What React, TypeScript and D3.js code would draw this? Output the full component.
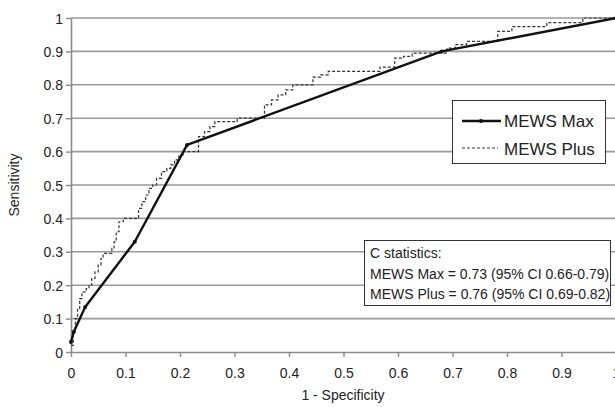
import { useEffect, useRef } from "react";
import * as d3 from "d3";

// tick values shared by both axes
const tickValues = [0, 0.1, 0.2, 0.3, 0.4, 0.5, 0.6, 0.7, 0.8, 0.9, 1];

// MEWS Max ROC points [1 - specificity, sensitivity]
const mewsMax: [number, number][] = [
  [0, 0.03],
  [0.005, 0.06],
  [0.026, 0.135],
  [0.117, 0.33],
  [0.213, 0.62],
  [0.68, 0.9],
  [1, 1],
];

// MEWS Plus empirical ROC, corners at the top of each riser
const mewsPlus: [number, number][] = [
  [0, 0.02], [0.004, 0.06], [0.008, 0.1], [0.012, 0.13], [0.016, 0.16],
  [0.02, 0.18], [0.028, 0.19], [0.033, 0.2], [0.038, 0.22], [0.044, 0.24],
  [0.05, 0.26], [0.055, 0.28], [0.059, 0.295], [0.075, 0.31], [0.079, 0.33],
  [0.083, 0.36], [0.088, 0.39], [0.096, 0.4], [0.124, 0.43], [0.13, 0.45],
  [0.137, 0.47], [0.143, 0.49], [0.15, 0.5], [0.157, 0.52], [0.166, 0.54],
  [0.176, 0.55], [0.183, 0.56], [0.19, 0.575], [0.198, 0.59], [0.206, 0.6],
  [0.234, 0.645], [0.245, 0.66], [0.255, 0.675], [0.264, 0.69], [0.305, 0.7],
  [0.355, 0.74], [0.368, 0.755], [0.38, 0.77], [0.394, 0.785], [0.407, 0.8],
  [0.444, 0.823], [0.458, 0.83], [0.472, 0.84], [0.567, 0.853], [0.594, 0.88],
  [0.61, 0.885], [0.626, 0.895], [0.69, 0.91], [0.705, 0.92], [0.726, 0.93],
  [0.783, 0.96], [0.809, 0.974], [0.873, 0.986], [0.939, 1], [1, 1],
];

const seriesNames = ["MEWS Max", "MEWS Plus"];
const statsLines = [
  "C statistics:",
  "MEWS Max = 0.73 (95% CI 0.66-0.79)",
  "MEWS Plus = 0.76 (95% CI 0.69-0.82)",
];
const xTitle = "1 - Specificity";
const yTitle = "Sensitivity";

const FONT = "'Liberation Sans', Arial, sans-serif";

export default function App() {
  const ref = useRef<SVGSVGElement>(null);

  useEffect(() => {
    const svg = d3.select(ref.current);
    svg.selectAll("*").remove();

    const width = 615;
    const height = 407;
    const margin = { top: 18, left: 71, bottom: 55 };
    const plotRight = 616;

    const x = d3.scaleLinear().domain([0, 1]).range([margin.left, plotRight]);
    const y = d3.scaleLinear().domain([0, 1]).range([height - margin.bottom, margin.top]);

    svg.append("rect").attr("width", width).attr("height", height).attr("fill", "#fff");

    // horizontal gridlines
    svg
      .append("g")
      .selectAll("line")
      .data(tickValues.slice(1))
      .join("line")
      .attr("x1", x(0))
      .attr("x2", plotRight)
      .attr("y1", (d) => y(d))
      .attr("y2", (d) => y(d))
      .attr("stroke", "#9a9a9a")
      .attr("stroke-width", 1.6);

    const fmt = (d: number) => (d === 0 || d === 1 ? String(d) : d.toFixed(1));

    const xAxis = svg
      .append("g")
      .attr("transform", `translate(0,${y(0)})`)
      .call(d3.axisBottom(x).tickValues(tickValues).tickFormat((d) => fmt(+d)).tickSize(5).tickSizeOuter(0));
    const yAxis = svg
      .append("g")
      .attr("transform", `translate(${x(0)},0)`)
      .call(d3.axisLeft(y).tickValues(tickValues).tickFormat((d) => fmt(+d)).tickSize(5).tickSizeOuter(0));

    [xAxis, yAxis].forEach((g) => {
      g.select(".domain").attr("stroke", "#8a8a8a").attr("stroke-width", 1.6);
      g.selectAll(".tick line").attr("stroke", "#8a8a8a").attr("stroke-width", 1.4);
      g.selectAll("text")
        .attr("fill", "#222")
        .style("font-family", FONT)
        .style("font-size", "14px");
    });
    xAxis.selectAll("text").attr("dy", "1.3em");
    yAxis.selectAll("text").attr("x", -8).attr("dy", "0.36em");

    // axis titles
    svg
      .append("text")
      .attr("x", 343)
      .attr("y", 400)
      .attr("text-anchor", "middle")
      .attr("fill", "#222")
      .style("font-family", FONT)
      .style("font-size", "14px")
      .text(xTitle);
    svg
      .append("text")
      .attr("transform", `translate(19,185) rotate(-90)`)
      .attr("text-anchor", "middle")
      .attr("fill", "#222")
      .style("font-family", FONT)
      .style("font-size", "14px")
      .text(yTitle);

    // MEWS Plus stepped dashed
    const stepLine = d3
      .line<[number, number]>()
      .x((d) => x(d[0]))
      .y((d) => y(d[1]))
      .curve(d3.curveStepAfter);
    svg
      .append("path")
      .datum(mewsPlus)
      .attr("fill", "none")
      .attr("stroke", "#333")
      .attr("stroke-width", 1.2)
      .attr("stroke-dasharray", "3,2")
      .attr("d", stepLine);

    // MEWS Max solid
    const solid = d3
      .line<[number, number]>()
      .x((d) => x(d[0]))
      .y((d) => y(d[1]));
    svg
      .append("path")
      .datum(mewsMax)
      .attr("fill", "none")
      .attr("stroke", "#111")
      .attr("stroke-width", 2.4)
      .attr("stroke-linejoin", "round")
      .attr("d", solid);
    svg
      .append("g")
      .selectAll("circle")
      .data(mewsMax)
      .join("circle")
      .attr("cx", (d) => x(d[0]))
      .attr("cy", (d) => y(d[1]))
      .attr("r", 2)
      .attr("fill", "#111");

    // legend
    const lg = svg.append("g");
    lg.append("rect")
      .attr("x", 452.5)
      .attr("y", 100.5)
      .attr("width", 153)
      .attr("height", 63)
      .attr("fill", "#fff")
      .attr("stroke", "#333")
      .attr("stroke-width", 1);
    lg.append("line")
      .attr("x1", 462).attr("x2", 501).attr("y1", 121).attr("y2", 121)
      .attr("stroke", "#111").attr("stroke-width", 2.4);
    lg.append("circle").attr("cx", 481).attr("cy", 121).attr("r", 2).attr("fill", "#111");
    lg.append("line")
      .attr("x1", 462).attr("x2", 498).attr("y1", 148).attr("y2", 148)
      .attr("stroke", "#333").attr("stroke-width", 1.2).attr("stroke-dasharray", "3,2");
    lg.selectAll("text.lab")
      .data(seriesNames)
      .join("text")
      .attr("class", "lab")
      .attr("x", 504)
      .attr("y", (_, i) => 127 + i * 28)
      .attr("fill", "#222")
      .style("font-family", FONT)
      .style("font-size", "17px")
      .text((d) => d);

    // C statistics box
    const sb = svg.append("g");
    sb.append("rect")
      .attr("x", 364.5)
      .attr("y", 240.5)
      .attr("width", 246)
      .attr("height", 65)
      .attr("fill", "#fff")
      .attr("stroke", "#333")
      .attr("stroke-width", 1);
    sb.selectAll("text")
      .data(statsLines)
      .join("text")
      .attr("x", 370)
      .attr("y", (_, i) => 258 + i * 20.5)
      .attr("fill", "#222")
      .style("font-family", FONT)
      .style("font-size", "14px")
      .text((d) => d);
  }, []);

  return (
    <svg
      ref={ref}
      width={615}
      height={407}
      style={{ position: "absolute", left: 0, top: 0, display: "block" }}
    />
  );
}
